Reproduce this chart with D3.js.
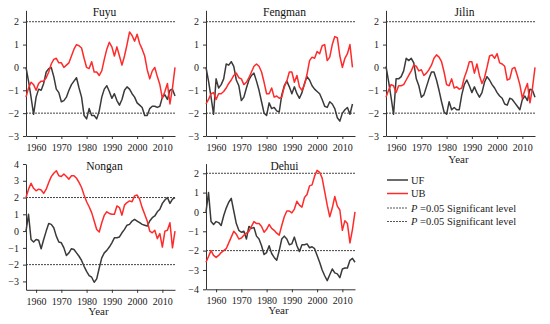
<!DOCTYPE html>
<html>
<head>
<meta charset="utf-8">
<script src="https://cdn.jsdelivr.net/npm/d3@7"></script>
<style>
  body { margin: 0; background: #fff; }
  svg { display: block; font-family: "Liberation Serif", "Times New Roman", serif; }
  .axis path, .axis line { stroke: #333; }
  .axis text { font-family: "Liberation Serif", serif; font-size: 10px; fill: #222; }
</style>
</head>
<body>
<svg width="550" height="324"></svg>
<script>
// Mann-Kendall statistics, 1956-2015
var years = d3.range(1956, 2016);

var fuyuUF = [0,-0.6,-1.3,-2.05,-1.3,-0.95,-1.0,-0.7,-0.2,-0.05,0.0,-0.4,-0.95,-1.1,-1.5,-1.45,-1.3,-1.0,-0.75,-0.6,
  -0.45,-0.9,-1.3,-2.1,-2.25,-1.8,-2.1,-2.1,-2.25,-1.9,-1.3,-0.95,-0.8,-1.05,-1.35,-1.15,-1.45,-1.65,-1.4,-1.0,
  -0.85,-0.95,-1.15,-1.3,-1.55,-1.65,-1.75,-2.1,-2.1,-1.8,-1.7,-1.7,-1.75,-1.7,-1.3,-1.2,-1.4,-1.0,-0.95,-1.25];
var fuyuUB = [-1.3,-0.9,-0.65,-0.75,-1.0,-0.7,-0.6,-0.6,-0.45,-0.2,0.15,0.35,0.4,0.2,0.2,0.0,0.1,0.2,0.5,0.8,
  1.0,0.95,0.85,0.4,0.0,-0.05,0.25,-0.2,-0.2,-0.35,-0.15,0.35,0.8,1.1,0.9,0.5,0.9,0.5,0.1,0.5,
  1.0,1.55,1.4,1.15,1.45,1.05,0.8,0.5,-0.1,-0.5,-0.15,0.0,-0.4,-0.75,-1.35,-1.05,-0.7,-1.6,-0.9,0.0];

var fengmanUF = [0,-0.6,-1.3,-2.05,-0.5,-0.9,-0.75,-0.5,0.15,0.1,0.25,0.05,-0.55,-0.8,-1.45,-1.3,-0.9,-0.55,-0.35,-0.25,
  -0.6,-1.0,-1.5,-2.0,-2.1,-1.55,-1.8,-1.75,-1.9,-1.95,-1.2,-0.8,-0.6,-0.85,-1.15,-0.85,-1.15,-1.35,-1.1,-0.7,
  -0.4,-0.55,-0.8,-0.95,-1.05,-1.15,-1.4,-1.7,-1.75,-1.5,-1.6,-1.8,-2.2,-2.35,-2.0,-1.85,-1.75,-2.05,-1.6];
var fengmanUB = [-1.6,-1.4,-1.15,-1.1,-1.4,-1.15,-1.15,-1.05,-0.9,-0.7,-0.55,-0.35,-0.25,-0.45,-0.5,-0.75,-0.65,-0.45,-0.2,0.05,
  0.15,0.05,-0.2,-0.65,-1.15,-1.15,-0.9,-1.3,-1.25,-1.35,-1.3,-0.85,-0.6,-0.2,-0.2,-0.65,-0.35,-0.85,-1.0,-0.75,
  -0.3,0.3,0.45,0.4,0.7,0.6,0.95,1.0,0.3,0.45,1.0,1.35,1.3,0.5,0.0,0.4,0.6,1.0,0.0];

var jilinUF = [0.05,-0.6,-1.3,-2.05,-0.5,-0.5,-0.4,-0.15,0.4,0.3,0.4,0.2,-0.5,-0.8,-1.3,-1.2,-0.85,-0.5,-0.2,-0.2,
  -0.55,-1.0,-1.5,-1.95,-2.05,-1.5,-1.85,-1.75,-1.85,-1.85,-1.2,-0.75,-0.55,-0.8,-1.1,-0.85,-1.1,-1.3,-1.1,-0.65,
  -0.4,-0.55,-0.75,-0.9,-1.1,-1.25,-1.35,-1.6,-1.65,-1.35,-1.4,-1.55,-1.7,-1.85,-1.4,-1.25,-1.45,-0.95,-1.0,-1.3];
var jilinUB = [-1.3,-1.0,-0.75,-0.8,-1.1,-0.8,-0.8,-0.75,-0.55,-0.35,-0.15,0.1,0.05,-0.15,-0.1,-0.35,-0.25,-0.1,0.1,0.4,
  0.55,0.45,0.25,-0.2,-0.75,-0.8,-0.5,-0.9,-0.85,-0.95,-0.9,-0.45,-0.15,0.25,0.25,-0.25,0.15,-0.35,-0.7,-0.45,
  0.0,0.5,0.55,0.4,0.6,0.2,0.15,0.05,-0.55,-0.5,-0.05,0.0,-0.35,-0.75,-1.35,-1.0,-0.7,-1.55,-0.9,0.0];

var nonganUF = [0,1.0,-0.5,-0.65,-0.5,-0.55,-1.05,-0.5,0.0,0.45,0.4,0.2,-0.3,-0.65,-0.7,-1.0,-1.45,-1.3,-1.05,-1.1,
  -1.3,-1.5,-1.75,-2.1,-2.4,-2.65,-2.75,-3.05,-2.85,-2.2,-1.6,-1.3,-1.15,-0.95,-0.7,-0.4,-0.4,-0.35,-0.1,0.1,
  0.35,0.4,0.6,0.7,0.6,0.5,0.4,0.35,0.3,0.6,0.8,0.9,1.15,1.3,1.65,1.85,2.0,1.65,1.9,2.0];
var nonganUB = [2.0,2.5,2.85,2.55,2.4,2.5,2.45,2.25,2.5,2.9,3.25,3.45,3.6,3.3,3.25,3.4,3.25,3.1,3.3,3.3,
  3.15,2.9,2.6,2.15,1.75,1.45,1.1,0.6,0.1,-0.05,0.5,0.95,1.15,1.05,1.0,1.0,1.5,1.4,0.95,1.55,
  1.7,1.8,1.75,2.1,2.15,1.9,1.4,1.0,0.6,0.0,-0.1,0.05,-0.45,-0.15,-0.95,0.0,0.05,0.5,-1.0,0.0];

var dehuiUF = [0,1.0,-0.5,-0.65,-0.5,-0.55,-0.7,-0.2,0.2,0.5,0.7,0.05,-0.6,-0.95,-1.05,-1.0,-1.4,-0.75,-0.85,-0.8,
  -1.25,-1.4,-1.75,-2.2,-2.1,-1.75,-2.15,-2.35,-2.5,-2.0,-1.4,-1.25,-1.4,-1.7,-1.65,-1.3,-1.75,-2.05,-1.7,-1.7,
  -1.65,-1.85,-1.8,-1.9,-2.25,-2.6,-3.0,-3.3,-3.55,-3.25,-2.95,-3.15,-3.2,-3.4,-2.95,-2.9,-2.9,-2.5,-2.4,-2.6];
var dehuiUB = [-2.6,-2.3,-2.0,-2.25,-2.35,-2.25,-2.1,-2.0,-1.9,-1.6,-1.3,-1.0,-1.15,-1.4,-1.35,-1.2,-1.1,-1.0,-0.75,-0.5,
  -0.6,-0.6,-0.75,-1.05,-0.9,-0.65,-0.85,-0.95,-1.1,-1.2,-0.7,-0.25,0.05,0.05,-0.05,0.15,0.55,0.35,0.25,0.75,
  0.9,1.35,1.4,1.85,2.15,2.05,1.75,1.05,0.35,-0.25,0.2,0.8,0.3,0.1,-0.95,-0.45,-0.6,-1.6,-0.9,0.0];

var xTicks = [1960, 1970, 1980, 1990, 2000, 2010];
var sigLevel = 2;   // |U| = 1.96 at P = 0.05, drawn at 2

var svg = d3.select("svg");

// panel frames (pixel layout)
var panels = [
  {name: "Fuyu",    uf: fuyuUF,    ub: fuyuUB,    x0: 26,  x1: 175, yDom: [-3, 2.5], yRng: [136, 10.3],  yTicks: d3.range(-3, 3),  xLine: true,  year: false},
  {name: "Fengman", uf: fengmanUF, ub: fengmanUB, x0: 206, x1: 355, yDom: [-3, 2.5], yRng: [136, 10.3],  yTicks: d3.range(-3, 3),  xLine: true,  year: false},
  {name: "Jilin",   uf: jilinUF,   ub: jilinUB,   x0: 386, x1: 535, yDom: [-3, 2.5], yRng: [136, 10.3],  yTicks: d3.range(-3, 3),  xLine: true,  year: true},
  {name: "Nongan",  uf: nonganUF,  ub: nonganUB,  x0: 26,  x1: 175, yDom: [-3.5, 4], yRng: [289.8, 164], yTicks: d3.range(-3, 5),  xLine: false, year: true},
  {name: "Dehui",   uf: dehuiUF,   ub: dehuiUB,   x0: 206, x1: 355, yDom: [-4, 2.5], yRng: [289.3, 163.6], yTicks: d3.range(-4, 3), xLine: false, year: true}
];

panels.forEach(function(p) {
  var x = d3.scaleLinear().domain([1956, 2015]).range([p.x0, p.x1]);
  var y = d3.scaleLinear().domain(p.yDom).range(p.yRng);
  var g = svg.append("g");

  // significance lines
  [sigLevel, -sigLevel].forEach(function(v) {
    g.append("line")
      .attr("x1", x(1956)).attr("x2", x(2015))
      .attr("y1", y(v)).attr("y2", y(v))
      .attr("stroke", "#444")
      .attr("stroke-width", 1)
      .attr("stroke-dasharray", "2,1");
  });

  // y axis
  g.append("g")
    .attr("class", "axis")
    .attr("transform", "translate(" + p.x0 + ",0)")
    .call(d3.axisLeft(y).tickValues(p.yTicks).tickSize(3).tickSizeOuter(0).tickFormat(d3.format("d")))
    .call(a => a.selectAll("text").attr("dx", "-1"));

  // x axis
  var xa = g.append("g")
    .attr("class", "axis")
    .attr("transform", "translate(0," + y(p.yDom[0]) + ")")
    .call(d3.axisBottom(x).tickValues(xTicks).tickSize(3).tickSizeOuter(0).tickFormat(d3.format("d")));
  xa.selectAll("text").attr("dy", "0.9em");
  if (!p.xLine) xa.select(".domain").attr("stroke", "none");

  var line = d3.line()
    .x((d, i) => x(years[i]))
    .y(d => y(d));

  g.append("path")
    .datum(p.uf)
    .attr("fill", "none")
    .attr("stroke", "#3a3a3a")
    .attr("stroke-width", 1.5)
    .attr("stroke-linejoin", "round")
    .attr("d", line);

  g.append("path")
    .datum(p.ub)
    .attr("fill", "none")
    .attr("stroke", "#ff2a2a")
    .attr("stroke-width", 1.5)
    .attr("stroke-linejoin", "round")
    .attr("d", line);

  // title
  g.append("text")
    .attr("x", (p.x0 + p.x1) / 2 + 4)
    .attr("y", p.yRng[1] + 6)
    .attr("text-anchor", "middle")
    .attr("font-size", 11.5)
    .attr("fill", "#111")
    .text(p.name);

  if (p.year) {
    g.append("text")
      .attr("x", (p.x0 + p.x1) / 2 - 2)
      .attr("y", y(p.yDom[0]) + (p.xLine ? 27 : 25))
      .attr("text-anchor", "middle")
      .attr("font-size", 11)
      .attr("fill", "#222")
      .text("Year");
  }
});

// legend
var legendItems = [
  {label: "UF", color: "#3a3a3a", dash: null, w: 1.5},
  {label: "UB", color: "#ff2a2a", dash: null, w: 1.5},
  {label: "=0.05 Significant level", color: "#555", dash: "2,1", w: 1, p: true},
  {label: "=0.05 Significant level", color: "#555", dash: "2,1", w: 1, p: true}
];
var lg = svg.append("g").attr("transform", "translate(387,180)");
legendItems.forEach(function(d, i) {
  var yy = [0, 13.5, 28, 41.5][i];
  lg.append("line")
    .attr("x1", 0).attr("x2", 21)
    .attr("y1", yy).attr("y2", yy)
    .attr("stroke", d.color)
    .attr("stroke-width", d.w)
    .attr("stroke-dasharray", d.dash);
  var t = lg.append("text")
    .attr("x", 24).attr("y", yy + 3.5)
    .attr("font-size", 10.5)
    .attr("fill", "#222");
  if (d.p) {
    t.append("tspan").attr("font-style", "italic").text("P");
    t.append("tspan").text(" " + d.label);
  } else {
    t.text(d.label);
  }
});
</script>
</body>
</html>
